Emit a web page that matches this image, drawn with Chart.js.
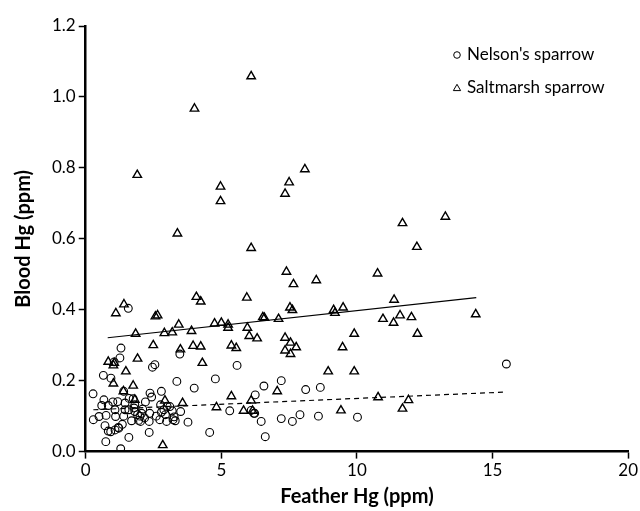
<!DOCTYPE html>
<html><head><meta charset="utf-8">
<script src="https://cdn.jsdelivr.net/npm/chart.js@4/dist/chart.umd.min.js"></script>
<style>html,body{margin:0;padding:0;background:#fff}#wrap{width:640px;height:511px}</style>
</head><body><div id="wrap"><canvas id="c" width="640" height="511"></canvas></div>
<script>
const seriesNames = ["Nelson's sparrow", "Saltmarsh sparrow"];
const xTicks = [0, 5, 10, 15, 20];
const yTicks = [0, 0.2, 0.4, 0.6, 0.8, 1.0, 1.2];

const nelsonX = [1.30,1.26,1.05,3.47,2.46,2.55,5.58,0.65,0.93,3.36,4.78,6.57,7.21,0.27,1.40,4.00,2.79,2.37,2.43,6.25,
  0.67,0.83,1.18,1.45,1.75,1.81,2.76,3.10,1.08,1.45,1.81,1.91,2.06,2.36,2.79,3.19,3.50,5.31,6.23,6.10,
  0.28,0.49,0.75,1.10,1.69,2.02,2.34,2.73,3.22,3.77,6.47,7.21,0.71,1.20,1.35,0.83,1.08,1.59,2.34,4.57,
  6.62,0.74,1.29,1.57,8.11,8.65,7.62,7.90,8.58,10.02,15.51,
  0.59,1.59,1.78,2.00,2.17,1.95,2.88,2.94,3.26,3.30,0.92,1.22,1.00,1.60,2.20,2.10,2.60,1.40,2.98,3.00,6.20];
const nelsonY = [0.292,0.264,0.253,0.275,0.238,0.245,0.243,0.215,0.207,0.198,0.205,0.185,0.200,0.163,0.170,0.179,0.170,0.165,0.154,0.160,
  0.146,0.130,0.141,0.137,0.149,0.132,0.132,0.127,0.118,0.118,0.113,0.104,0.108,0.108,0.111,0.115,0.113,0.115,0.108,0.116,
  0.090,0.099,0.102,0.099,0.087,0.085,0.085,0.090,0.090,0.083,0.085,0.093,0.073,0.068,0.077,0.058,0.061,0.040,0.054,0.054,
  0.042,0.028,0.008,0.404,0.175,0.181,0.085,0.104,0.100,0.097,0.247,
  0.130,0.118,0.123,0.100,0.095,0.088,0.118,0.104,0.098,0.087,0.056,0.066,0.140,0.150,0.140,0.120,0.100,0.100,0.085,0.128,0.108];

const saltX = [6.10,4.01,1.90,4.97,4.97,8.08,7.50,7.35,3.38,6.10,4.08,4.24,5.94,1.41,1.11,2.57,2.65,3.43,4.75,5.00,
  5.25,5.25,5.96,6.53,6.59,7.11,6.03,6.32,1.84,2.90,3.19,3.90,2.49,3.49,3.96,4.24,5.37,5.55,0.83,1.05,
  1.02,1.91,1.48,4.30,1.02,1.75,1.39,5.37,6.10,2.92,3.57,4.82,5.82,6.15,7.06,2.84,1.81,11.68,13.26,12.21,
  7.40,7.66,8.50,10.76,11.37,7.53,7.62,9.14,9.19,9.49,10.96,11.59,12.01,11.35,14.38,7.35,7.55,7.76,7.35,7.55,
  9.47,9.90,12.23,8.94,9.90,10.78,11.90,11.68,9.41];
const saltY = [1.058,0.967,0.780,0.747,0.706,0.796,0.759,0.727,0.615,0.574,0.436,0.423,0.434,0.415,0.390,0.381,0.384,0.358,0.361,0.363,
  0.358,0.349,0.349,0.379,0.377,0.374,0.326,0.319,0.332,0.334,0.336,0.340,0.300,0.288,0.298,0.296,0.299,0.292,0.253,0.250,
  0.243,0.262,0.226,0.250,0.192,0.186,0.170,0.156,0.144,0.144,0.137,0.125,0.115,0.115,0.170,0.018,0.146,0.644,0.662,0.577,
  0.507,0.472,0.483,0.502,0.428,0.406,0.399,0.399,0.391,0.406,0.374,0.384,0.379,0.363,0.387,0.321,0.307,0.294,0.285,0.275,
  0.294,0.332,0.332,0.226,0.226,0.153,0.145,0.121,0.116];

const nelsonFitX = [0.28, 15.5];
const nelsonFitY = [0.118, 0.168];
const saltFitX = [0.81, 14.4];
const saltFitY = [0.321, 0.434];

const FONT = 'Lato, "Open Sans", sans-serif';
const toPts = (xs, ys) => xs.map((x, i) => ({x: x, y: ys[i]}));

const legendPlugin = {
  id: 'insideLegend',
  afterDraw(chart) {
    const ctx = chart.ctx;
    ctx.save();
    ctx.strokeStyle = '#000';
    ctx.lineWidth = 1;
    ctx.fillStyle = '#000';
    ctx.font = '17px ' + FONT;
    ctx.textBaseline = 'middle';
    const mx = 457, tx = 467, ys = [55, 88];
    ctx.beginPath(); ctx.arc(mx, ys[0], 3.3, 0, Math.PI * 2); ctx.stroke();
    const r = 4.2, cy = ys[1] + 0.5;
    ctx.beginPath();
    ctx.moveTo(mx, cy - r);
    ctx.lineTo(mx + r * Math.sin(2 * Math.PI / 3), cy - r * Math.cos(2 * Math.PI / 3));
    ctx.lineTo(mx + r * Math.sin(4 * Math.PI / 3), cy - r * Math.cos(4 * Math.PI / 3));
    ctx.closePath(); ctx.stroke();
    ctx.fillText(seriesNames[0], tx, ys[0]);
    ctx.fillText(seriesNames[1], tx, ys[1]);
    ctx.restore();
  }
};

new Chart(document.getElementById('c'), {
  type: 'scatter',
  data: {
    datasets: [
      {label: seriesNames[0], data: toPts(nelsonX, nelsonY), pointStyle: 'circle', pointRadius: 3.9,
       borderColor: '#000', backgroundColor: 'rgba(0,0,0,0)', borderWidth: 1.1, order: 2},
      {label: seriesNames[1], data: toPts(saltX, saltY), pointStyle: 'triangle', pointRadius: 4.9,
       borderColor: '#000', backgroundColor: 'rgba(0,0,0,0)', borderWidth: 1.4, order: 2},
      {type: 'line', label: 'fitN', data: toPts(nelsonFitX, nelsonFitY), borderColor: '#000', borderWidth: 1.2,
       borderDash: [5, 4], pointRadius: 0, fill: false, order: 1},
      {type: 'line', label: 'fitS', data: toPts(saltFitX, saltFitY), borderColor: '#000', borderWidth: 1.2,
       pointRadius: 0, fill: false, order: 1}
    ]
  },
  options: {
    responsive: false,
    devicePixelRatio: 1,
    animation: false,
    layout: {padding: {left: 12, right: 10, top: 26, bottom: 2}},
    plugins: {legend: {display: false}, tooltip: {enabled: false}},
    scales: {
      x: {
        type: 'linear', min: 0, max: 20,
        afterBuildTicks: (s) => { s.ticks = xTicks.map(v => ({value: v})); },
        ticks: {color: '#000', font: {family: FONT, size: 17}, padding: 2},
        grid: {drawOnChartArea: false, color: '#000', tickLength: 7, tickWidth: 1.5},
        border: {color: '#000', width: 2.5},
        title: {display: true, text: 'Feather Hg (ppm)', color: '#000', font: {family: FONT, size: 20, weight: 'bold'}, padding: {top: 2, bottom: 0}}
      },
      y: {
        type: 'linear', min: 0, max: 1.2,
        afterBuildTicks: (s) => { s.ticks = yTicks.map(v => ({value: v})); },
        ticks: {color: '#000', font: {family: FONT, size: 17}, padding: 3, callback: (v) => Number(v).toFixed(1)},
        grid: {drawOnChartArea: false, color: '#000', tickLength: 7, tickWidth: 1.5},
        border: {color: '#000', width: 2.5},
        title: {display: true, text: 'Blood Hg (ppm)', color: '#000', font: {family: FONT, size: 20, weight: 'bold'}, padding: {top: 0, bottom: 13}}
      }
    }
  },
  plugins: [legendPlugin]
});
</script></body></html>
